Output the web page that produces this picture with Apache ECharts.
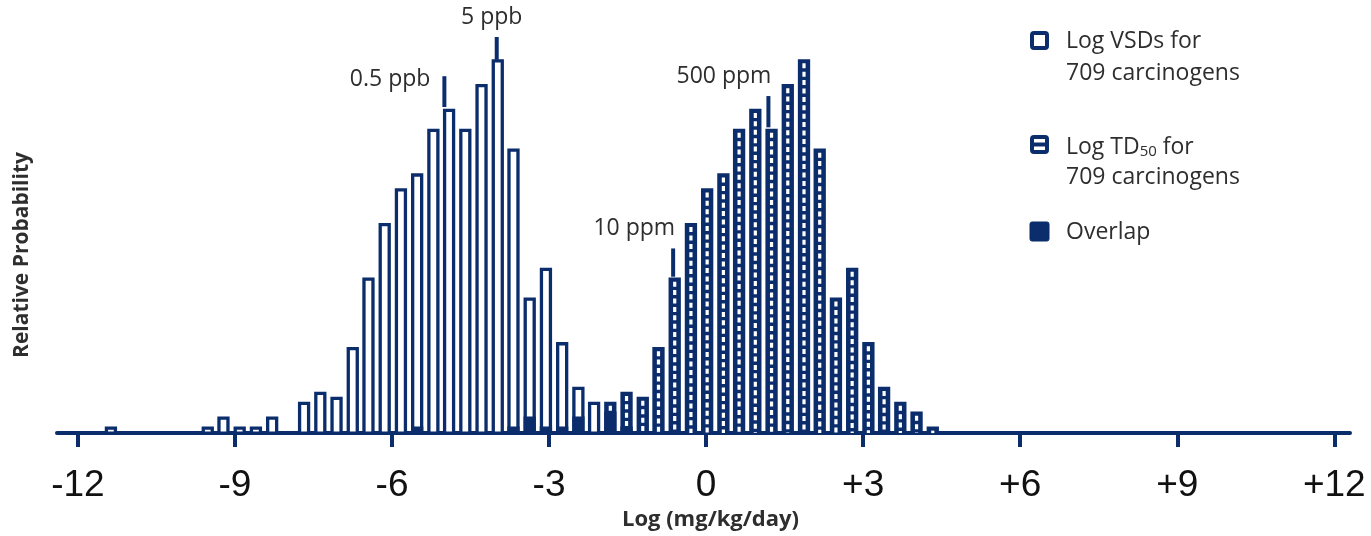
<!DOCTYPE html>
<html>
<head>
<meta charset="utf-8">
<script src="https://cdn.jsdelivr.net/npm/echarts@6/dist/echarts.min.js"></script>
<style>
html,body{margin:0;padding:0;background:#fff;}
#chart{width:1371px;height:536px;}
</style>
</head>
<body>
<div id="chart"></div>
<script>
// ---- data ----
// histogram bin centres, log(mg/kg/day)
const binCenters = [-11.37,-11.06,-10.75,-10.45,-10.14,-9.83,-9.52,-9.22,-8.91,-8.60,-8.29,-7.98,
  -7.68,-7.37,-7.06,-6.75,-6.45,-6.14,-5.83,-5.52,-5.21,-4.91,-4.60,-4.29,-3.98,-3.68,-3.37,-3.06,
  -2.75,-2.44,-2.14,-1.83,-1.52,-1.21,-0.91,-0.60,-0.29,0.02,0.33,0.63,0.94,1.25,1.56,1.87,2.17,
  2.48,2.79,3.10,3.40,3.71,4.02,4.33];
// number of carcinogens per bin: Log VSDs
const vsdCounts = [1,0,0,0,0,0,1,3,1,1,3,0,
  6,8,7,17,31,42,49,52,61,65,61,70,75,57,27,33,
  18,9,6,4,1,0,0,0,0,0,0,0,0,0,0,0,0,
  0,0,0,0,0,0,0];
// number of carcinogens per bin: Log TD50
const td50Counts = [0,0,0,0,0,0,0,0,0,0,0,0,
  0,0,0,0,0,0,0,1,0,0,0,0,0,1,3,1,
  1,3,0,6,8,7,17,31,42,49,52,61,65,61,70,75,57,
  27,33,18,9,6,4,1];
// dose markers
const markerNames = ['0.5 ppb','5 ppb','10 ppm','500 ppm'];
const markerX = [-5.0,-4.0,-0.63,1.19];
const markerLow = [65.7,75.2,31.5,61.6];
const markerHigh = [71.9,79.8,37.2,67.9];
// axis ticks
const tickValues = [-12,-9,-6,-3,0,3,6,9,12];
const tickLabels = ['-12','-9','-6','-3','0','+3','+6','+9','+12'];

// ---- styles ----
const NAVY = '#0b2d6b';
const TEXT = '#2e2e2e';
const BAR_W = 9, BAR_LW = 3.3;
const markerLabelStyle = [
  {align:'right', dx:-14, dy:3},
  {align:'center', dx:-5, dy:-20},
  {align:'right', dx:2, dy:-20},
  {align:'right', dx:3, dy:-20}
];

const barData = binCenters.map((x,i)=>[x, vsdCounts[i], td50Counts[i]]);
const markerData = markerX.map((x,i)=>[x, markerLow[i], markerHigh[i], i]);

const chart = echarts.init(document.getElementById('chart'), null, {renderer:'canvas'});

function renderBar(params, api){
  const x = api.value(0), v = api.value(1), t = api.value(2);
  const hi = Math.max(v,t), lo = Math.min(v,t);
  const children = [];
  if (hi <= 0) return {type:'group', children};
  const base = api.coord([x,0]);
  const cx = base[0], by = base[1];
  const top = api.coord([x,hi])[1];
  const rx = cx - BAR_W/2;
  if (t > v) {
    children.push({type:'rect', shape:{x:rx, y:top, width:BAR_W, height:by-top},
      style:{fill:NAVY, stroke:NAVY, lineWidth:BAR_LW}});
    children.push({type:'line', shape:{x1:cx, y1:top+2.5, x2:cx, y2:by},
      style:{stroke:'#ffffff', lineWidth:3.2, lineDash:[5,3.4]}});
  } else {
    children.push({type:'rect', shape:{x:rx, y:top, width:BAR_W, height:by-top},
      style:{fill:'#ffffff', stroke:NAVY, lineWidth:BAR_LW}});
  }
  if (lo > 0) {
    const lt = api.coord([x,lo])[1];
    children.push({type:'rect', shape:{x:rx, y:lt, width:BAR_W, height:by-lt},
      style:{fill:NAVY, stroke:NAVY, lineWidth:BAR_LW}});
  }
  return {type:'group', children};
}

function renderMarker(params, api){
  const x = api.value(0), lo = api.value(1), hi = api.value(2), idx = api.value(3);
  const p1 = api.coord([x,lo]), p2 = api.coord([x,hi]);
  const st = markerLabelStyle[idx];
  return {type:'group', children:[
    {type:'line', shape:{x1:p1[0], y1:p1[1], x2:p2[0], y2:p2[1]},
      style:{stroke:NAVY, lineWidth:4}},
    {type:'text', x:p2[0]+st.dx, y:p2[1]+st.dy,
      style:{text:markerNames[idx], fill:TEXT, font:'23px "Open Sans", sans-serif',
        align:st.align, verticalAlign:'middle'}}
  ]};
}

const legendX = 1030, textX = 1066;
const legendFont = '23px "Open Sans", sans-serif';

chart.setOption({
  backgroundColor:'#ffffff',
  animation:false,
  grid:{left:57, right:21, top:36, bottom:96},
  xAxis:{
    type:'value', min:-12.4, max:12.3,
    splitLine:{show:false},
    axisLine:{show:true, lineStyle:{color:NAVY, width:4}},
    axisTick:{show:true, customValues:tickValues, length:14, lineStyle:{color:NAVY, width:4}},
    axisLabel:{show:true, customValues:tickValues, margin:34,
      fontFamily:'"Liberation Sans",Arial,sans-serif', fontSize:37, color:'#111',
      formatter:(val)=>{const i = tickValues.indexOf(Math.round(val)); return i>=0 ? tickLabels[i] : '';}},
    name:'Log (mg/kg/day)', nameLocation:'middle', nameGap:73,
    nameTextStyle:{fontFamily:'"Open Sans", sans-serif', fontWeight:'bold', fontSize:22, color:TEXT,
      padding:[0,0,0,14]}
  },
  yAxis:{type:'value', min:0, max:80, show:false},
  series:[
    {type:'custom', name:'bars', renderItem:renderBar, data:barData, encode:{x:0,y:[1,2]}, z:2, clip:false},
    {type:'custom', name:'markers', renderItem:renderMarker, data:markerData, encode:{x:0,y:[1,2]}, z:3, clip:false}
  ],
  graphic:[
    {type:'text', x:22, y:255, rotation:Math.PI/2,
      style:{text:'Relative Probability', fill:TEXT, font:'bold 21px "Open Sans", sans-serif',
        align:'center', verticalAlign:'middle'}},
    // legend: VSD
    {type:'rect', shape:{x:legendX+2, y:33, width:15, height:15, r:2},
      style:{fill:'#fff', stroke:NAVY, lineWidth:4}},
    {type:'text', x:textX, y:41, style:{text:'Log VSDs for', fill:TEXT, font:legendFont, verticalAlign:'middle'}},
    {type:'text', x:textX, y:73, style:{text:'709 carcinogens', fill:TEXT, font:legendFont, verticalAlign:'middle'}},
    // legend: TD50
    {type:'rect', shape:{x:legendX+2, y:137, width:15, height:15, r:2},
      style:{fill:'#fff', stroke:NAVY, lineWidth:4}},
    {type:'line', shape:{x1:legendX+2, y1:144.5, x2:legendX+17, y2:144.5},
      style:{stroke:NAVY, lineWidth:4}},
    {type:'text', x:textX, y:145, style:{
      text:'{a|Log TD}{s|50}{a| for}', verticalAlign:'middle',
      rich:{a:{fontFamily:'"Open Sans", sans-serif', fontSize:23, fill:TEXT, lineHeight:28, verticalAlign:'bottom'},
            s:{fontFamily:'"Open Sans", sans-serif', fontSize:15, fill:TEXT, lineHeight:10, verticalAlign:'bottom'}}}},
    {type:'text', x:textX, y:177, style:{text:'709 carcinogens', fill:TEXT, font:legendFont, verticalAlign:'middle'}},
    // legend: overlap
    {type:'rect', shape:{x:legendX, y:222, width:19, height:19, r:2},
      style:{fill:NAVY, stroke:NAVY, lineWidth:1}},
    {type:'text', x:textX, y:232, style:{text:'Overlap', fill:TEXT, font:legendFont, verticalAlign:'middle'}}
  ]
});
</script>
</body>
</html>
